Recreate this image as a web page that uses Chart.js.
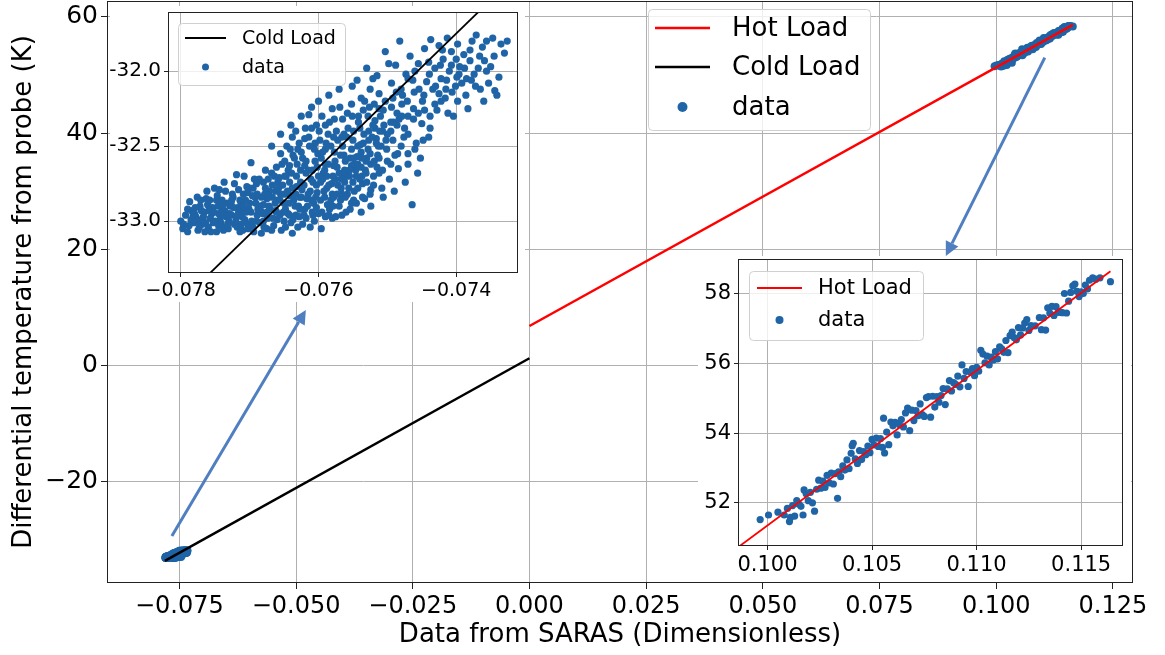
<!DOCTYPE html>
<html>
<head>
<meta charset="utf-8">
<script src="https://cdn.jsdelivr.net/npm/chart.js@4.4.1/dist/chart.umd.min.js"></script>
<style>
  body { margin: 0; background: #fff; }
  #wrap { position: relative; width: 1165px; height: 655px; }
  .inset { position: absolute; background: #fff; }
</style>
</head>
<body>
<div id="wrap">
  <canvas id="main" width="1165" height="655"></canvas>
  <div class="inset" style="left:110px;top:6px;width:415px;height:296px"><canvas id="cold" width="415" height="296"></canvas></div>
  <div class="inset" style="left:698px;top:256px;width:433px;height:326px"><canvas id="hot" width="433" height="326"></canvas></div>
</div>
<script>
// cold load measurements [SARAS, probe temperature]
const coldPoints = [
  [-0.07800,-33.00],[-0.07797,-33.05],[-0.07793,-32.96],[-0.07790,-33.07],[-0.07787,-32.87],[-0.07784,-32.93],
  [-0.07781,-33.01],[-0.07778,-32.97],[-0.07775,-33.06],[-0.07772,-32.90],[-0.07769,-33.02],[-0.07766,-32.94],
  [-0.07763,-32.85],[-0.07760,-33.04],[-0.07757,-32.98],[-0.07754,-32.91],[-0.07751,-32.78],[-0.07748,-33.07],
  [-0.07745,-32.95],[-0.07742,-33.01],[-0.07740,-32.86],[-0.07737,-32.74],[-0.07734,-32.97],[-0.07731,-33.05],
  [-0.07728,-32.90],[-0.07725,-32.82],[-0.07722,-33.02],[-0.07719,-32.69],[-0.07716,-32.94],[-0.07713,-32.87],
  [-0.07710,-33.06],[-0.07707,-32.99],[-0.07704,-32.77],[-0.07701,-32.92],[-0.07698,-32.61],[-0.07695,-33.04],
  [-0.07692,-32.84],[-0.07689,-32.96],[-0.07686,-32.72],[-0.07683,-33.08],[-0.07680,-32.89],[-0.07677,-32.66],
  [-0.07674,-32.98],[-0.07671,-32.80],[-0.07668,-32.50],[-0.07665,-33.03],[-0.07662,-32.93],[-0.07659,-32.74],
  [-0.07656,-32.86],[-0.07653,-32.62],[-0.07650,-33.00],[-0.07647,-32.70],[-0.07644,-32.95],[-0.07641,-32.83],
  [-0.07638,-33.08],[-0.07635,-32.58],[-0.07632,-32.77],[-0.07629,-32.90],[-0.07626,-32.66],[-0.07623,-33.02],
  [-0.07620,-32.45],[-0.07617,-32.85],[-0.07614,-32.29],[-0.07611,-32.72],[-0.07608,-32.96],[-0.07605,-32.60],
  [-0.07602,-32.81],[-0.07599,-32.40],[-0.07596,-33.05],[-0.07593,-32.68],[-0.07590,-32.52],[-0.07587,-32.89],
  [-0.07584,-32.34],[-0.07581,-32.75],[-0.07578,-32.63],[-0.07575,-32.97],[-0.07572,-32.46],[-0.07569,-32.24],
  [-0.07566,-32.82],[-0.07563,-32.56],[-0.07560,-32.70],[-0.07557,-32.38],[-0.07554,-32.92],[-0.07551,-32.10],
  [-0.07548,-32.62],[-0.07545,-32.88],[-0.07542,-32.30],[-0.07539,-32.49],[-0.07536,-32.75],[-0.07533,-32.20],
  [-0.07530,-32.58],[-0.07527,-32.40],[-0.07524,-32.79],[-0.07521,-32.05],[-0.07518,-32.33],[-0.07515,-32.64],
  [-0.07512,-32.15],[-0.07509,-32.50],[-0.07506,-32.26],[-0.07503,-31.87],[-0.07500,-32.42],[-0.07497,-32.72],
  [-0.07494,-32.08],[-0.07491,-32.34],[-0.07488,-31.96],[-0.07485,-32.55],[-0.07482,-31.80],[-0.07479,-32.22],
  [-0.07476,-32.44],[-0.07473,-32.02],[-0.07470,-32.30],[-0.07467,-31.90],[-0.07464,-32.89],[-0.07461,-32.14],
  [-0.07458,-32.48],[-0.07455,-31.95],[-0.07452,-32.58],[-0.07449,-32.20],[-0.07446,-31.85],[-0.07443,-32.07],
  [-0.07440,-32.44],[-0.07437,-31.79],[-0.07434,-32.12],[-0.07431,-31.98],[-0.07428,-32.26],[-0.07425,-31.83],
  [-0.07422,-32.05],[-0.07419,-31.92],[-0.07416,-32.18],[-0.07413,-31.78],[-0.07410,-32.00],[-0.07407,-31.87],
  [-0.07404,-32.30],[-0.07401,-32.10],[-0.07398,-31.82],[-0.07395,-31.97],[-0.07392,-32.08],[-0.07389,-31.89],
  [-0.07386,-32.16],[-0.07383,-32.25],[-0.07380,-31.93],[-0.07377,-31.80],[-0.07374,-32.02],[-0.07371,-31.76],
  [-0.07368,-31.98],[-0.07365,-32.12],[-0.07362,-31.84],[-0.07359,-31.93],[-0.07356,-31.80],[-0.07353,-32.08],
  [-0.07350,-31.97],[-0.07347,-31.78],[-0.07344,-32.13],[-0.07341,-32.16],[-0.07338,-32.04],[-0.07335,-31.82],
  [-0.07330,-31.88],[-0.07326,-31.80],
  [-0.07790,-32.92],[-0.07776,-32.84],[-0.07762,-32.80],[-0.07748,-32.86],[-0.07735,-32.80],[-0.07722,-32.75],
  [-0.07708,-32.70],[-0.07695,-32.78],[-0.07680,-32.74],[-0.07668,-32.68],[-0.07655,-32.55],[-0.07642,-32.63],
  [-0.07630,-32.52],[-0.07618,-32.60],[-0.07605,-32.48],[-0.07590,-32.62],[-0.07578,-32.44],[-0.07565,-32.50],
  [-0.07552,-32.52],[-0.07540,-32.38],[-0.07528,-32.30],[-0.07516,-32.45],[-0.07505,-32.36],[-0.07492,-32.18],
  [-0.07480,-32.12],[-0.07470,-32.05],[-0.07770,-32.99],[-0.07755,-32.95],[-0.07740,-32.92],[-0.07726,-32.96],
  [-0.07712,-32.93],[-0.07700,-32.88],[-0.07688,-32.92],[-0.07675,-32.85],[-0.07662,-32.80],[-0.07650,-32.88],
  [-0.07638,-32.78],[-0.07625,-32.84],[-0.07612,-32.80],[-0.07600,-32.70],[-0.07588,-32.78],[-0.07576,-32.72],
  [-0.07562,-32.66],[-0.07550,-32.74],[-0.07538,-32.64],[-0.07525,-32.55],[-0.07512,-32.58],[-0.07745,-33.03],
  [-0.07730,-33.00],[-0.07718,-33.04],[-0.07703,-33.02],[-0.07690,-33.00],[-0.07675,-33.05],[-0.07660,-32.99],
  [-0.07648,-33.04],[-0.07633,-32.96],[-0.07620,-32.92],[-0.07607,-32.88],[-0.07595,-32.94],[-0.07582,-32.86],
  [-0.07570,-32.90],[-0.07558,-32.82],[-0.07545,-32.70],[-0.07533,-32.85],[-0.07520,-32.70],[-0.07508,-32.78],
  [-0.07495,-32.62],[-0.07484,-32.65],[-0.07470,-32.55],[-0.07655,-32.42],[-0.07640,-32.36],[-0.07625,-32.30],
  [-0.07610,-32.38],[-0.07595,-32.30],[-0.07580,-32.25],[-0.07565,-32.32],[-0.07552,-32.22],[-0.07538,-32.18],
  [-0.07525,-32.12],[-0.07512,-32.25],[-0.07498,-31.95],[-0.07486,-32.28],[-0.07475,-32.38],[-0.07462,-32.25],
  [-0.07450,-32.35],[-0.07438,-32.30],[-0.07425,-32.15],[-0.07412,-32.28],[-0.07398,-32.20],[-0.07385,-32.05],
  [-0.07372,-32.10],[-0.07360,-32.20],[-0.07345,-31.90],
  [-0.07785,-32.99],[-0.07779,-32.91],[-0.07773,-33.04],[-0.07767,-32.97],[-0.07761,-32.89],[-0.07756,-33.07],
  [-0.07752,-32.94],[-0.07747,-32.83],[-0.07743,-32.99],[-0.07738,-33.06],[-0.07733,-32.88],[-0.07729,-32.95],
  [-0.07724,-32.84],[-0.07720,-33.00],[-0.07716,-32.79],[-0.07711,-32.97],[-0.07706,-32.86],[-0.07702,-33.05],
  [-0.07698,-32.94],[-0.07693,-32.72],[-0.07689,-32.82],[-0.07685,-33.01],[-0.07681,-32.95],[-0.07677,-32.78],
  [-0.07672,-32.90],[-0.07668,-33.06],[-0.07664,-32.70],[-0.07660,-32.86],[-0.07656,-32.96],[-0.07652,-32.76],
  [-0.07648,-32.92],[-0.07644,-32.66],[-0.07640,-33.01],[-0.07636,-32.86],[-0.07632,-32.70],[-0.07628,-32.97],
  [-0.07624,-32.79],[-0.07620,-32.63],[-0.07616,-32.90],[-0.07612,-33.04],[-0.07608,-32.74],[-0.07604,-32.84],
  [-0.07600,-32.95],[-0.07596,-32.58],[-0.07592,-32.80],[-0.07588,-32.70],[-0.07584,-32.92],[-0.07580,-32.82],
  [-0.07576,-32.60],[-0.07572,-32.76],[-0.07568,-32.86],[-0.07564,-32.68],[-0.07560,-32.94],[-0.07556,-32.78],
  [-0.07552,-32.63],[-0.07548,-32.80],[-0.07544,-32.57],[-0.07540,-32.72],[-0.07536,-32.84],[-0.07532,-32.66],
  [-0.07528,-32.52],[-0.07524,-32.62],[-0.07520,-32.76],[-0.07516,-32.48],[-0.07512,-32.68],
  [-0.07782,-32.96],[-0.07770,-32.93],[-0.07758,-32.86],[-0.07746,-32.90],[-0.07736,-32.93],[-0.07727,-32.88],
  [-0.07717,-32.91],[-0.07709,-32.82],[-0.07700,-32.78],[-0.07691,-32.88],[-0.07683,-32.84],[-0.07675,-32.94],
  [-0.07667,-32.84],[-0.07658,-32.78],[-0.07650,-32.82],[-0.07642,-32.74],[-0.07634,-32.90],[-0.07626,-32.74],
  [-0.07618,-32.68],[-0.07610,-32.86],[-0.07602,-32.64],[-0.07594,-32.72],[-0.07586,-32.62],[-0.07578,-32.84],
  [-0.07570,-32.68],[-0.07562,-32.74],[-0.07554,-32.58],[-0.07546,-32.66],[-0.07538,-32.54],[-0.07530,-32.74],
  [-0.07522,-32.44],[-0.07514,-32.56],
  [-0.07740,-33.04],[-0.07712,-33.02],[-0.07694,-33.07],[-0.07680,-33.00],[-0.07666,-32.98],[-0.07654,-33.06],
  [-0.07642,-32.96],[-0.07630,-33.04],[-0.07618,-32.98],[-0.07606,-33.00],[-0.07590,-32.97],[-0.07580,-32.98],
  [-0.07566,-32.96],[-0.07552,-32.88],[-0.07538,-32.94],[-0.07524,-32.90],[-0.07506,-32.84],[-0.07490,-32.80],
  [-0.07474,-32.74],[-0.07456,-32.68],
  [-0.07646,-32.50],[-0.07638,-32.44],[-0.07628,-32.48],[-0.07619,-32.38],[-0.07606,-32.52],[-0.07598,-32.46],
  [-0.07590,-32.36],[-0.07582,-32.50],[-0.07574,-32.40],[-0.07566,-32.44],[-0.07558,-32.28],[-0.07550,-32.46],
  [-0.07542,-32.34],[-0.07534,-32.42],[-0.07526,-32.24],[-0.07518,-32.38],[-0.07510,-32.30],[-0.07502,-32.46],
  [-0.07494,-32.24],[-0.07486,-32.36],[-0.07478,-32.16],[-0.07470,-32.42],[-0.07462,-32.32],[-0.07454,-32.12],
  [-0.07446,-32.26],[-0.07438,-32.38],[-0.07430,-32.10],[-0.07422,-32.20],[-0.07414,-32.06],[-0.07406,-32.14],
  [-0.07396,-32.02],[-0.07388,-31.98],[-0.07378,-32.06],[-0.07366,-31.90],[-0.07356,-32.00],[-0.07610,-32.24],
  [-0.07600,-32.20],[-0.07585,-32.16],[-0.07570,-32.12],[-0.07544,-32.06],[-0.07530,-31.98],[-0.07515,-32.03],
  [-0.07460,-32.00],[-0.07440,-31.94],[-0.07420,-31.86],[-0.07400,-31.92],[-0.07380,-31.86],[-0.07470,-32.62],
  [-0.07480,-32.50],[-0.07492,-32.46],[-0.07500,-32.60],[-0.07460,-32.52],[-0.07448,-32.46],
  [-0.07796,-33.02],[-0.07788,-33.03],[-0.07780,-32.95],[-0.07764,-33.01],[-0.07750,-33.00],[-0.07738,-32.96],
  [-0.07723,-32.91],[-0.07714,-32.86],[-0.07705,-32.94],[-0.07696,-32.83],[-0.07686,-32.90],[-0.07678,-32.82],
  [-0.07670,-32.92],[-0.07663,-32.88],[-0.07657,-32.71],[-0.07651,-32.94],[-0.07645,-32.80],[-0.07639,-32.68],
  [-0.07633,-32.82],[-0.07627,-32.92],[-0.07621,-32.76],[-0.07615,-32.66],[-0.07609,-32.94],[-0.07603,-32.76],
  [-0.07597,-32.86],[-0.07591,-32.66],[-0.07585,-32.76],[-0.07579,-32.90],[-0.07573,-32.64],[-0.07567,-32.78],
  [-0.07561,-32.60],[-0.07555,-32.70],[-0.07549,-32.86],[-0.07543,-32.62],[-0.07537,-32.70],[-0.07531,-32.60],
  [-0.07673,-32.72],[-0.07661,-32.64],[-0.07649,-32.60],[-0.07637,-32.56],[-0.07625,-32.54],[-0.07613,-32.50],
  [-0.07601,-32.55],[-0.07589,-32.48],[-0.07577,-32.54],[-0.07563,-32.42],[-0.07549,-32.40],[-0.07535,-32.48],
  [-0.07521,-32.36],[-0.07507,-32.40],
  [-0.07776,-33.00],[-0.07771,-32.86],[-0.07765,-33.07],[-0.07759,-32.93],[-0.07753,-33.01],[-0.07744,-32.79],
  [-0.07739,-32.89],[-0.07732,-33.02],[-0.07726,-32.86],[-0.07719,-32.97],[-0.07714,-33.07],[-0.07709,-32.90],
  [-0.07703,-32.81],[-0.07697,-33.00],[-0.07690,-32.75],[-0.07684,-32.93],[-0.07679,-33.04],[-0.07673,-32.84],
  [-0.07667,-32.76],[-0.07661,-32.94],[-0.07655,-32.82],[-0.07649,-32.70],[-0.07643,-32.88],[-0.07637,-32.99],
  [-0.07631,-32.62],[-0.07627,-32.84],[-0.07621,-32.96],[-0.07615,-32.82],[-0.07609,-32.66],[-0.07603,-32.91],
  [-0.07597,-32.74],[-0.07591,-32.84],[-0.07585,-32.96],[-0.07579,-32.70],[-0.07573,-32.82],[-0.07567,-32.72],
  [-0.07561,-32.84],[-0.07555,-32.66],[-0.07549,-32.58],[-0.07543,-32.78],[-0.07537,-32.58],[-0.07531,-32.68],
  [-0.07525,-32.82],[-0.07519,-32.60],[-0.07513,-32.50],[-0.07507,-32.66],[-0.07501,-32.52],[-0.07495,-32.40],
  [-0.07489,-32.56],[-0.07483,-32.32],
  [-0.07641,-32.52],[-0.07633,-32.40],[-0.07623,-32.58],[-0.07614,-32.44],[-0.07603,-32.36],[-0.07594,-32.54],
  [-0.07586,-32.42],[-0.07577,-32.32],[-0.07568,-32.56],[-0.07559,-32.44],[-0.07551,-32.30],[-0.07543,-32.50],
  [-0.07535,-32.26],[-0.07527,-32.46],[-0.07519,-32.22],[-0.07511,-32.40],[-0.07503,-32.20],[-0.07495,-32.34],
  [-0.07487,-32.14],[-0.07479,-32.30],[-0.07471,-32.20],[-0.07463,-32.06],[-0.07455,-32.28],[-0.07447,-32.16],
  [-0.07439,-32.02],[-0.07431,-32.22],[-0.07423,-31.96],[-0.07415,-32.12],[-0.07407,-31.96],[-0.07399,-32.04]
];

// hot load measurements [SARAS, probe temperature]
const hotPoints = [
  [0.09965,51.52],[0.10005,51.65],[0.10050,51.73],[0.10080,51.65],[0.10095,51.84],[0.10105,51.46],
  [0.10110,51.58],[0.10120,51.92],[0.10130,51.62],[0.10140,52.06],[0.10150,51.96],[0.10160,51.90],
  [0.10170,51.65],[0.10175,52.37],[0.10185,52.26],[0.10195,52.06],[0.10205,52.30],[0.10215,52.00],
  [0.10225,51.76],[0.10235,52.39],[0.10245,52.65],[0.10255,52.42],[0.10265,52.62],[0.10275,52.44],
  [0.10285,52.79],[0.10295,52.57],[0.10305,52.85],[0.10315,52.54],[0.10325,52.84],[0.10335,52.13],
  [0.10340,52.89],[0.10350,52.75],[0.10360,53.06],[0.10370,52.94],[0.10380,53.23],[0.10390,52.98],
  [0.10400,53.42],[0.10405,53.64],[0.10410,53.71],[0.10420,53.26],[0.10430,53.13],[0.10440,53.50],
  [0.10450,53.24],[0.10460,53.47],[0.10470,53.38],[0.10480,53.63],[0.10490,53.44],[0.10500,53.82],
  [0.10510,53.66],[0.10520,53.86],[0.10530,53.62],[0.10540,53.84],[0.10550,53.59],[0.10555,54.43],
  [0.10560,53.43],[0.10570,54.03],[0.10580,53.67],[0.10590,54.32],[0.10600,54.21],[0.10610,54.31],
  [0.10620,53.95],[0.10630,54.25],[0.10640,54.39],[0.10650,54.18],[0.10660,54.58],[0.10670,54.72],
  [0.10680,54.07],[0.10690,54.66],[0.10700,54.36],[0.10710,54.65],[0.10720,54.50],[0.10730,54.84],
  [0.10740,54.53],[0.10750,54.48],[0.10760,55.02],[0.10770,55.05],[0.10780,54.46],[0.10790,55.06],
  [0.10800,54.75],[0.10810,55.05],[0.10820,54.89],[0.10830,55.08],[0.10840,55.28],[0.10850,54.82],
  [0.10860,55.27],[0.10870,55.51],[0.10880,55.21],[0.10890,55.45],[0.10900,55.40],[0.10910,55.64],
  [0.10920,55.33],[0.10930,55.96],[0.10940,55.57],[0.10950,55.77],[0.10960,55.34],[0.10970,55.76],
  [0.10980,55.85],[0.10990,55.65],[0.11000,55.89],[0.11010,55.78],[0.11020,56.38],[0.11030,56.27],
  [0.11040,56.02],[0.11050,56.21],[0.11060,55.96],[0.11070,56.18],[0.11080,56.10],[0.11090,56.34],
  [0.11100,56.13],[0.11110,56.48],[0.11120,56.42],[0.11130,56.32],[0.11140,56.66],[0.11150,56.31],
  [0.11160,56.80],[0.11170,56.90],[0.11180,56.74],[0.11190,56.68],[0.11200,57.03],[0.11210,56.82],
  [0.11220,57.02],[0.11230,57.16],[0.11240,57.26],[0.11250,56.95],[0.11260,57.09],[0.11280,57.08],
  [0.11300,57.32],[0.11310,56.97],[0.11320,57.31],[0.11330,56.96],[0.11340,57.60],[0.11350,57.45],
  [0.11360,57.64],[0.11370,57.38],[0.11380,57.63],[0.11390,57.47],[0.11400,57.47],[0.11410,57.46],
  [0.11420,58.01],[0.11430,57.45],[0.11440,57.79],[0.11450,58.04],[0.11460,58.23],[0.11470,58.28],
  [0.11480,58.07],[0.11490,57.92],[0.11500,58.06],[0.11510,58.01],[0.11520,58.25],[0.11530,58.14],
  [0.11540,58.39],[0.11555,58.46],[0.11570,58.42],[0.11590,58.46],[0.11640,58.35]
];

// fitted lines, end points
const hotLine = [[0, 6.84], [0.1164, 58.65]];
const coldLine = [[-0.0781, -33.58], [0, 1.29]];

// tick labels
const mainXTicks = [-0.075, -0.05, -0.025, 0, 0.025, 0.05, 0.075, 0.1, 0.125];
const mainYTicks = [-20, 0, 20, 40, 60];
const coldXTicks = [-0.078, -0.076, -0.074];
const coldYTicks = [-33.0, -32.5, -32.0];
const hotXTicks = [0.100, 0.105, 0.110, 0.115];
const hotYTicks = [52, 54, 56, 58];

// annotation arrows, in data coordinates of the main plot
const arrows = [
  [[-0.0766, -29.3], [-0.0479, 9.6]],
  [[0.1104, 53.0], [0.0892, 18.9]]
];

const BLUE = '#1f64a6';
const toXY = arr => arr.map(p => ({x: p[0], y: p[1]}));
const minus = (v, d) => (v < 0 ? '\u2212' : '') + Math.abs(v).toFixed(d);

Chart.defaults.font.family = 'DejaVu Sans';
Chart.defaults.color = '#000';

function fixTicks(list) {
  return s => { s.ticks = list.map(v => ({value: v})); };
}

const framePlugin = {
  id: 'frame',
  afterDatasetsDraw(chart) {
    const a = chart.chartArea, ctx = chart.ctx;
    ctx.save();
    ctx.strokeStyle = '#222';
    ctx.lineWidth = 1;
    ctx.strokeRect(Math.round(a.left) + 0.5, Math.round(a.top) + 0.5,
      Math.round(a.right - a.left) - 1, Math.round(a.bottom - a.top) - 1);
    ctx.restore();
  }
};

// matplotlib-like legend box
const boxLegend = {
  id: 'boxLegend',
  afterDraw(chart, args, o) {
    const ctx = chart.ctx;
    ctx.save();
    ctx.fillStyle = 'rgba(255,255,255,0.8)';
    ctx.strokeStyle = '#d0d0d0';
    ctx.lineWidth = 1;
    ctx.beginPath();
    ctx.roundRect(o.x + 0.5, o.y + 0.5, o.w, o.h, 4);
    ctx.fill();
    ctx.stroke();
    ctx.font = o.size + 'px "DejaVu Sans"';
    ctx.textBaseline = 'middle';
    chart.data.datasets.forEach((ds, i) => {
      const y = o.rows[i];
      if (ds.showLine) {
        ctx.strokeStyle = ds.borderColor;
        ctx.lineWidth = ds.borderWidth;
        ctx.beginPath();
        ctx.moveTo(o.h0, y);
        ctx.lineTo(o.h1, y);
        ctx.stroke();
      } else {
        ctx.fillStyle = BLUE;
        ctx.beginPath();
        ctx.arc((o.h0 + o.h1) / 2, y, o.dot, 0, Math.PI * 2);
        ctx.fill();
      }
      ctx.fillStyle = '#000';
      ctx.fillText(ds.label, o.tx, y + 1);
    });
    ctx.restore();
  }
};

const arrowPlugin = {
  id: 'arrows',
  afterDraw(chart) {
    const ctx = chart.ctx, xs = chart.scales.x, ys = chart.scales.y;
    ctx.save();
    ctx.strokeStyle = '#4f7fc0';
    ctx.fillStyle = '#4f7fc0';
    ctx.lineWidth = 3;
    arrows.forEach(([a, b]) => {
      const x0 = xs.getPixelForValue(a[0]), y0 = ys.getPixelForValue(a[1]);
      const x1 = xs.getPixelForValue(b[0]), y1 = ys.getPixelForValue(b[1]);
      const ang = Math.atan2(y1 - y0, x1 - x0);
      const hl = 14, hw = 7;
      const bx = x1 - hl * Math.cos(ang), by = y1 - hl * Math.sin(ang);
      ctx.beginPath();
      ctx.moveTo(x0, y0);
      ctx.lineTo(bx, by);
      ctx.stroke();
      ctx.beginPath();
      ctx.moveTo(x1, y1);
      ctx.lineTo(bx + hw * Math.sin(ang), by - hw * Math.cos(ang));
      ctx.lineTo(bx - hw * Math.sin(ang), by + hw * Math.cos(ang));
      ctx.closePath();
      ctx.fill();
    });
    ctx.restore();
  }
};

function axis(o) {
  return {
    type: 'linear',
    min: o.min, max: o.max,
    afterBuildTicks: fixTicks(o.ticks),
    afterFit: s => {
      if (o.w) s.width = o.w;
      if (o.h) s.height = o.h;
      // no extra room for overhanging labels
      s.paddingTop = 0; s.paddingBottom = 0; s.paddingLeft = 0; s.paddingRight = 0;
    },
    border: {display: false},
    grid: {color: '#b0b0b0', lineWidth: 1, tickLength: o.tl || 5, tickColor: '#222'},
    ticks: {font: {size: o.size}, color: '#000', padding: o.pad || 3, maxRotation: 0, autoSkip: false, callback: o.fmt},
    title: o.title || {display: false}
  };
}

function lineSet(label, pts, color, width) {
  return {label: label, data: toXY(pts), showLine: true, borderColor: color, borderWidth: width,
    pointRadius: 0, fill: false, tension: 0};
}

function dataSet(pts, r) {
  return {label: 'data', data: toXY(pts), backgroundColor: BLUE, borderWidth: 0, pointRadius: r, showLine: false};
}

const common = {
  responsive: false, animation: false, devicePixelRatio: 1
};

// main plot
new Chart(document.getElementById('main'), {
  type: 'scatter',
  data: {datasets: [
    lineSet('Hot Load', hotLine, '#ff0000', 2.5),
    lineSet('Cold Load', coldLine, '#000000', 2.5),
    dataSet(coldPoints.concat(hotPoints), 4)
  ]},
  options: Object.assign({}, common, {
    layout: {autoPadding: false, padding: {top: 1, right: 32, left: 0, bottom: 0}},
    plugins: {legend: {display: false}, tooltip: {enabled: false},
      boxLegend: {x: 648, y: 9, w: 222, h: 121, rows: [28, 67, 107], h0: 655, h1: 710, tx: 732, dot: 5, size: 26}},
    scales: {
      x: axis({min: -0.0905, max: 0.1293, ticks: mainXTicks, h: 72, size: 24, tl: 6,
        fmt: v => minus(v, 3),
        title: {display: true, text: 'Data from SARAS (Dimensionless)', font: {size: 26}, color: '#000', padding: {top: 0, bottom: 4}}}),
      y: axis({min: -37.38, max: 62.75, ticks: mainYTicks, w: 107, size: 25, tl: 6,
        fmt: v => minus(v, 0),
        title: {display: true, text: 'Differential temperature from probe (K)', font: {size: 26}, color: '#000', padding: {top: 9, bottom: 0}}})
    }
  }),
  plugins: [framePlugin, boxLegend, arrowPlugin]
});

// cold load inset
new Chart(document.getElementById('cold'), {
  type: 'scatter',
  data: {datasets: [
    lineSet('Cold Load', coldLine, '#000000', 1.8),
    dataSet(coldPoints, 3.6)
  ]},
  options: Object.assign({}, common, {
    layout: {autoPadding: false, padding: {top: 6, right: 7, left: 0, bottom: 0}},
    plugins: {legend: {display: false}, tooltip: {enabled: false},
      boxLegend: {x: 68, y: 17, w: 167, h: 62, rows: [32, 61], h0: 75, h1: 116, tx: 132, dot: 3.5, size: 19}},
    scales: {
      x: axis({min: -0.078185, max: -0.073103, ticks: coldXTicks, h: 29, size: 19, tl: 4,
        fmt: v => minus(v, 3)}),
      y: axis({min: -33.345, max: -31.606, ticks: coldYTicks, w: 58, size: 20, tl: 4,
        fmt: v => v.toFixed(1)})
    }
  }),
  plugins: [framePlugin, boxLegend]
});

// hot load inset
new Chart(document.getElementById('hot'), {
  type: 'scatter',
  data: {datasets: [
    lineSet('Hot Load', hotLine, '#ff0000', 1.8),
    dataSet(hotPoints, 3.6)
  ]},
  options: Object.assign({}, common, {
    layout: {autoPadding: false, padding: {top: 3, right: 8, left: 0, bottom: 0}},
    plugins: {legend: {display: false}, tooltip: {enabled: false},
      boxLegend: {x: 51, y: 15, w: 174, h: 69, rows: [32, 64], h0: 59, h1: 104, tx: 120, dot: 4, size: 21}},
    scales: {
      x: axis({min: 0.09859, max: 0.1170, ticks: hotXTicks, h: 36, size: 21, tl: 4,
        fmt: v => v.toFixed(3)}),
      y: axis({min: 50.76, max: 59.0, ticks: hotYTicks, w: 40, size: 21, tl: 4,
        fmt: v => v.toFixed(0)})
    }
  }),
  plugins: [framePlugin, boxLegend]
});
</script>
</body>
</html>
